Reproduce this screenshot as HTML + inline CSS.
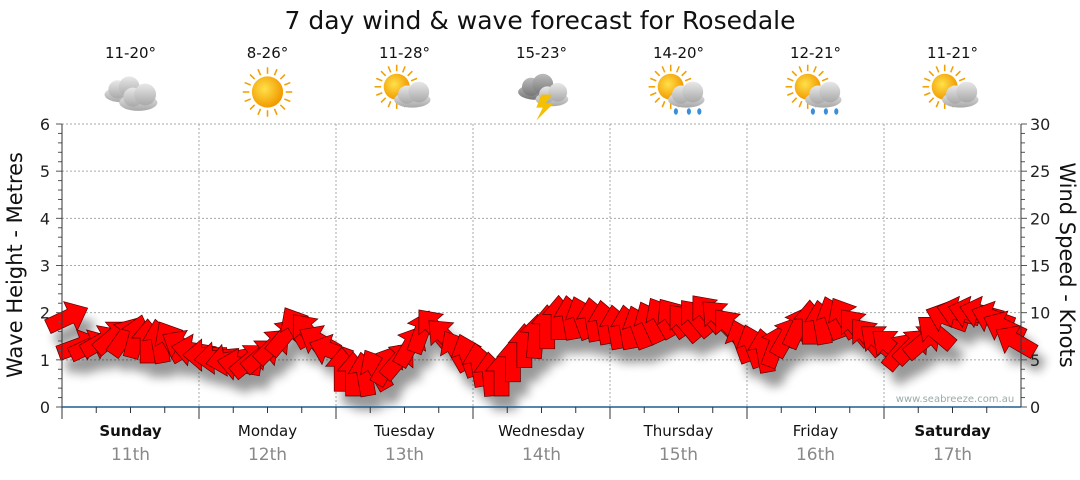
<!DOCTYPE html>
<html><head><meta charset="utf-8"><style>
body{margin:0;background:#fff;font-family:"Liberation Sans","DejaVu Sans",sans-serif}
svg text{font-family:"DejaVu Sans","Liberation Sans",sans-serif}
</style></head><body>
<svg id="c" width="1080" height="475" viewBox="0 0 1080 475">
<defs>
<filter id="sh" x="-50%" y="-50%" width="200%" height="200%"><feGaussianBlur stdDeviation="5"/></filter>
<radialGradient id="sun" cx="0.4" cy="0.4" r="0.6"><stop offset="0" stop-color="#ffe14a"/><stop offset="1" stop-color="#f29a00"/></radialGradient>
<linearGradient id="cl" x1="0" y1="0" x2="0" y2="1"><stop offset="0" stop-color="#e8e8e8"/><stop offset="1" stop-color="#a8a8a8"/></linearGradient>
<linearGradient id="dcl" x1="0" y1="0" x2="0" y2="1"><stop offset="0" stop-color="#bbb"/><stop offset="1" stop-color="#777"/></linearGradient>
</defs>
<text x="540" y="29" text-anchor="middle" font-size="25" fill="#111">7 day wind &amp; wave forecast for Rosedale</text>
<g id="grid"></g>
<g id="shadows" filter="url(#sh)" opacity="0.4"></g>
<g id="arrows"></g>
<g id="axes"></g>
<g id="topg"></g>
<text x="955" y="402" text-anchor="middle" font-size="10" fill="#9aa">www.seabreeze.com.au</text>
<text transform="translate(22,265) rotate(-90)" text-anchor="middle" font-size="21" fill="#111">Wave Height - Metres</text>
<text transform="translate(1060,265) rotate(90)" text-anchor="middle" font-size="21" fill="#111">Wind Speed - Knots</text>
</svg>
<script>
const days=["Sunday","Monday","Tuesday","Wednesday","Thursday","Friday","Saturday"];
const dates=["11th","12th","13th","14th","15th","16th","17th"];
const boldDays=[true,false,false,false,false,false,true];
const temps=["11-20°","8-26°","11-28°","15-23°","14-20°","12-21°","11-21°"];
const icons=["cloudy","sunny","partly","storm","showers","showers","partly"];
const waveTicks=[0,1,2,3,4,5,6];
const windTicks=[0,5,10,15,20,25,30];
const windKnots=[
9.5,6.5,6.5,7,7.5,7.5,7.5,7,7,7,6.5,6,
5.5,5.2,5,4.5,5,5.5,6.5,7.5,8.5,8,7,6,
4,3.5,3.5,4,4.5,5,6.5,8,8.5,7.5,6,5.5,
4.5,3.5,3.5,5,6.5,7.5,8.5,9.5,9.5,9.5,9.3,9,
8.5,8.5,8.5,9,9.5,9.5,9,9.5,10,9.5,8.5,7,
6.5,6,6.5,7.5,8.5,9,9,9.5,9.5,8.5,7.5,7,
6.5,6,6.5,7,8,9.5,10,10,10,9.5,8.5,7];
const windDir=[
25,20,25,30,40,55,75,90,100,120,150,170,
180,185,190,170,40,40,45,50,120,130,150,160,
90,90,100,120,60,50,60,70,130,135,120,110,
100,95,90,90,90,85,90,90,100,110,100,100,
100,100,110,115,120,125,130,130,130,135,130,110,
110,100,70,60,65,90,100,110,120,130,130,140,
140,50,45,40,140,160,165,165,165,160,155,150];
const NS="http://www.w3.org/2000/svg";
const X0=62,X1=1021,Y0=407,Y1=124;
const dayW=(X1-X0)/7;
const xDay=d=>X0+d*dayW;
const yWave=v=>Y0-(v/6)*(Y0-Y1);
const yWind=v=>Y0-(v/30)*(Y0-Y1);
const xPoint=i=>X0+(i+0.5)*dayW/12;
function mk(t,a,p){const e=document.createElementNS(NS,t);for(const k in a)e.setAttribute(k,a[k]);p.appendChild(e);return e;}
const grid=document.getElementById('grid'),axes=document.getElementById('axes'),topG=document.getElementById('topg');
waveTicks.forEach(v=>{
 if(v>0){const l=mk('line',{x1:X0,x2:X1,y1:yWave(v),y2:yWave(v),stroke:'#aaa','stroke-dasharray':'2,2'},grid);
 
 }
 const t=mk('text',{x:50,y:yWave(v)+6,'text-anchor':'end','font-size':16,fill:'#222'},axes);t.textContent=v;
 
 
});
for(let i=0;i<=30;i++){const y=Y0-i*(Y0-Y1)/30;
 mk('line',{x1:X0-(i%5?4:6),x2:X0,y1:y,y2:y,stroke:'#555'},axes);
 mk('line',{x1:X1,x2:X1+(i%5?4:6),y1:y,y2:y,stroke:'#555'},axes);}
windTicks.forEach(v=>{const t=mk('text',{x:1030,y:yWind(v)+6,'font-size':16,fill:'#222'},axes);t.textContent=v;
 
 });
mk('line',{x1:X0,x2:X0,y1:Y1,y2:Y0,stroke:'#333'},axes);
mk('line',{x1:X1,x2:X1,y1:Y1,y2:Y0,stroke:'#333'},axes);
const xa=mk('line',{x1:X0,x2:X1,y1:Y0,y2:Y0,stroke:'#1f5f8f','stroke-width':1.5},axes);


for(let d=0;d<7;d++){
 if(d>0){const l=mk('line',{x1:xDay(d),x2:xDay(d),y1:Y1,y2:Y0,stroke:'#aaa','stroke-dasharray':'2,2'},grid);
 
 }
 for(let q=0;q<4;q++){const x=xDay(d)+q*dayW/4;mk('line',{x1:x,x2:x,y1:Y0,y2:Y0+(q?6:12),stroke:'#333'},axes);}
 const cx=xDay(d)+dayW/2;
 const t=mk('text',{x:cx,y:436,'text-anchor':'middle','font-size':15,fill:'#111','font-weight':boldDays[d]?'bold':'normal'},axes);t.textContent=days[d];
 
 
 const t2=mk('text',{x:cx,y:460,'text-anchor':'middle','font-size':17,fill:'#888'},axes);t2.textContent=dates[d];
 
 
 const t3=mk('text',{x:cx,y:58,'text-anchor':'middle','font-size':15,fill:'#111'},topG);t3.textContent=temps[d];
 
 
 const g=mk('g',{transform:`translate(${cx},92) scale(1.3)`},topG);
 
 
 const ic=icons[d];
 if(ic!=='cloudy'&&ic!=='storm'){const sx=ic==='sunny'?0:-6,sy=ic==='sunny'?0:-4,r=ic==='sunny'?12:10;
  for(let k=0;k<16;k++){const a=k*Math.PI/8;mk('line',{x1:sx+Math.cos(a)*(r+2),y1:sy+Math.sin(a)*(r+2),x2:sx+Math.cos(a)*(r+7),y2:sy+Math.sin(a)*(r+7),stroke:'#f0a000','stroke-width':1.2},g);}
  mk('circle',{cx:sx,cy:sy,r:r,fill:'url(#sun)'},g);}
 const cloud=(ox,oy,s,f)=>{mk('ellipse',{cx:ox,cy:oy+4*s,rx:14*s,ry:6*s,fill:f},g);mk('circle',{cx:ox-4*s,cy:oy,r:7*s,fill:f},g);mk('circle',{cx:ox+5*s,cy:oy-2*s,r:8*s,fill:f},g);};
 if(ic==='cloudy'){cloud(-6,-2,1,'url(#cl)');cloud(6,4,1.05,'url(#cl)');}
 if(ic==='partly'||ic==='showers'){cloud(6,2,1,'url(#cl)');}
 if(ic==='showers'){[-2,8,16].forEach(o=>mk('ellipse',{cx:o,cy:15,rx:1.6,ry:2.5,fill:'#3a8fd8'},g));}
 if(ic==='storm'){cloud(-4,-4,1,'url(#dcl)');cloud(8,2,0.9,'url(#cl)');mk('polygon',{points:'0,2 8,2 3,9 9,9 -4,22 1,12 -4,12',fill:'#f5c000'},g);}
}
const arrows=document.getElementById('arrows'),shadows=document.getElementById('shadows');
const shape="-22,-7.5 3,-7.5 3,-16 22,0 3,16 3,7.5 -22,7.5";
windKnots.forEach((v,i)=>{
 const x=xPoint(i),y=yWind(v);
 mk('polygon',{points:shape,transform:`translate(${x+8},${y+14}) rotate(${-windDir[i]})`,fill:'#000'},shadows);
 const p=mk('polygon',{points:shape,transform:`translate(${x},${y}) rotate(${-windDir[i]})`,fill:'#ff0000',stroke:'#5a0000','stroke-width':0.7},arrows);
 
 
});
</script>
</body></html>
